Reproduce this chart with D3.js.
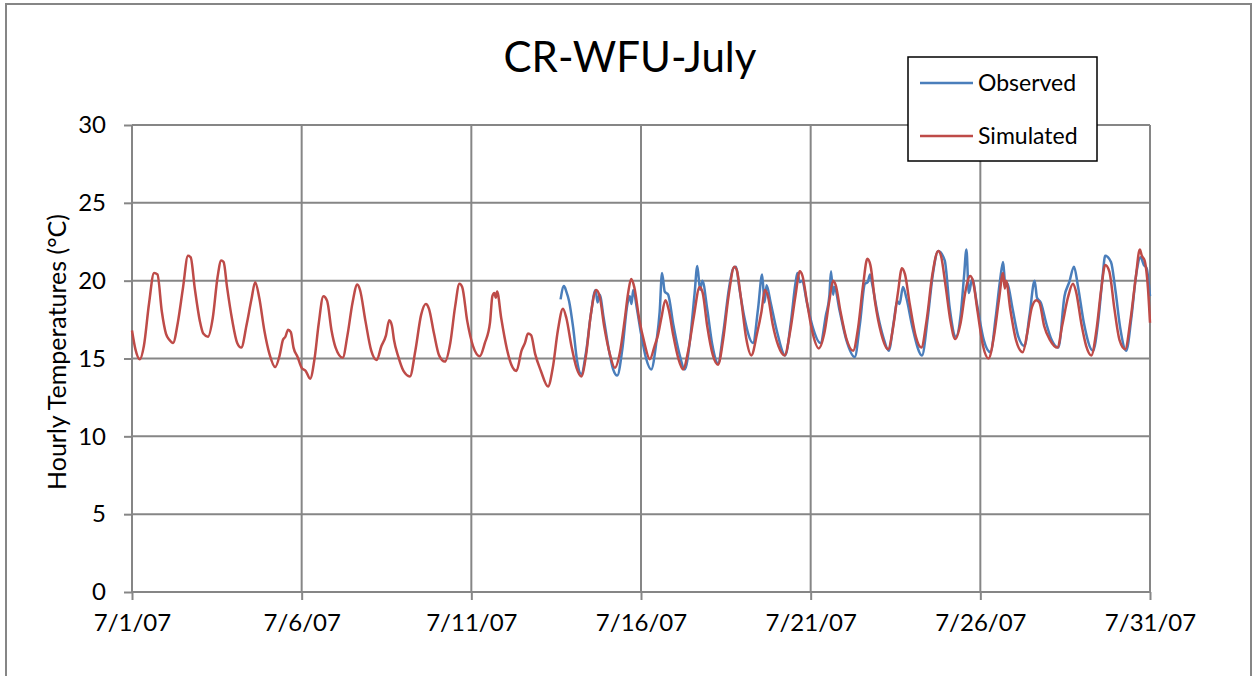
<!DOCTYPE html>
<html>
<head>
<meta charset="utf-8">
<script src="https://cdn.jsdelivr.net/npm/d3@7"></script>
<style>
  body { margin: 0; background: #fff; }
  svg text { font-family: Lato, "Open Sans", sans-serif; fill: #000; }
</style>
</head>
<body>
<div id="chart"></div>
<script>
// data: time in days since 7/1/07 00:00, temperature in deg C
const simDays = [0.00,0.10,0.23,0.35,0.50,0.65,0.75,0.88,1.00,1.10,1.21,1.35,1.50,1.65,1.73,1.85,2.00,2.10,2.24,2.38,2.52,2.63,2.70,2.80,2.95,3.10,3.22,3.38,3.52,3.63,3.75,3.90,4.05,4.22,4.35,4.45,4.52,4.60,4.68,4.76,4.88,5.00,5.12,5.25,5.38,5.50,5.64,5.75,5.88,6.00,6.21,6.35,6.50,6.64,6.72,6.88,7.05,7.21,7.35,7.48,7.58,7.66,7.72,7.85,8.00,8.19,8.35,8.52,8.66,8.75,8.90,9.05,9.22,9.38,9.52,9.65,9.73,9.88,10.05,10.25,10.40,10.55,10.62,10.68,10.72,10.76,10.88,11.05,11.18,11.33,11.48,11.58,11.67,11.76,11.88,12.05,12.26,12.40,12.55,12.70,12.80,12.95,13.10,13.24,13.38,13.52,13.68,13.78,13.92,14.08,14.23,14.38,14.52,14.62,14.71,14.80,14.95,15.10,15.26,15.40,15.50,15.60,15.72,15.82,15.95,16.10,16.24,16.40,16.55,16.73,16.82,16.95,17.12,17.27,17.42,17.58,17.75,17.82,17.95,18.10,18.25,18.42,18.55,18.65,18.74,18.88,19.05,19.23,19.40,19.55,19.68,19.76,19.90,20.05,20.24,20.40,20.55,20.66,20.74,20.88,21.05,21.25,21.40,21.55,21.67,21.76,21.90,22.08,22.28,22.43,22.57,22.69,22.78,22.92,23.10,23.26,23.42,23.58,23.76,23.84,23.98,24.12,24.26,24.42,24.56,24.70,24.78,24.92,25.08,25.24,25.40,25.55,25.67,25.72,25.76,25.88,26.05,26.25,26.38,26.52,26.65,26.74,26.88,27.05,27.27,27.42,27.58,27.73,27.82,27.98,28.12,28.27,28.42,28.56,28.68,28.80,28.95,29.10,29.27,29.42,29.58,29.70,29.76,29.84,29.94,30.00];
const simTemps = [16.8,15.6,14.95,15.8,18.5,20.5,20.4,18.0,16.6,16.2,16.0,17.3,19.5,21.6,21.5,19.5,17.4,16.6,16.4,17.6,20.2,21.3,21.2,19.6,17.5,16.0,15.7,17.2,18.8,19.9,18.9,16.8,15.3,14.45,15.2,16.2,16.4,16.85,16.7,15.7,15.1,14.4,14.2,13.7,15.0,17.2,19.0,18.7,16.8,15.7,15.05,16.5,18.6,19.75,19.4,17.4,15.5,14.9,15.8,16.45,17.45,17.1,16.2,15.1,14.2,13.85,15.5,17.8,18.5,18.2,16.6,15.2,14.8,16.0,18.3,19.8,19.6,17.4,15.8,15.15,16.0,17.3,19.0,19.2,18.9,19.3,17.6,15.6,14.6,14.2,15.5,16.0,16.6,16.5,15.3,14.2,13.2,14.4,16.8,18.2,17.6,15.8,14.4,13.85,15.2,17.8,19.4,19.0,17.0,15.3,14.4,15.4,17.5,19.2,20.1,19.6,17.5,16.0,14.95,15.8,16.5,17.6,18.75,18.1,16.5,15.0,14.3,15.6,17.6,19.6,19.2,17.1,15.2,14.6,16.2,19.0,20.9,20.7,18.8,16.3,15.2,16.6,18.0,19.4,19.0,17.2,15.8,15.2,16.8,19.0,20.6,20.3,18.5,16.7,15.65,16.6,18.7,20.0,19.7,18.0,16.3,15.5,17.0,19.8,21.4,21.0,18.6,16.6,15.6,17.0,19.2,20.8,20.4,18.5,16.4,15.7,17.5,20.3,21.9,21.6,19.6,17.4,16.25,17.3,19.3,20.3,20.0,18.0,15.8,15.0,16.4,18.8,20.5,19.5,20.0,18.2,16.2,15.4,16.6,18.3,18.75,18.6,17.1,16.2,15.7,17.2,18.9,19.8,19.3,17.2,15.8,15.2,16.8,19.4,21.0,20.6,18.2,16.2,15.6,17.4,20.2,22.0,21.6,21.3,19.5,17.3];

const obsDays = [12.63,12.73,12.80,12.88,13.00,13.12,13.24,13.38,13.52,13.66,13.72,13.78,13.90,14.05,14.18,14.30,14.45,14.60,14.67,14.72,14.77,14.88,15.00,15.15,15.30,15.45,15.55,15.62,15.70,15.80,15.95,16.12,16.29,16.45,16.58,16.66,16.74,16.81,16.95,17.10,17.27,17.42,17.60,17.72,17.80,17.90,18.05,18.30,18.45,18.57,18.64,18.70,18.82,19.00,19.25,19.42,19.55,19.61,19.68,19.75,19.88,20.05,20.29,20.45,20.55,20.60,20.66,20.70,20.85,21.05,21.30,21.45,21.60,21.68,21.75,21.82,21.98,22.15,22.30,22.45,22.55,22.62,22.72,22.82,23.00,23.28,23.45,23.60,23.76,23.95,24.10,24.28,24.42,24.52,24.59,24.66,24.76,24.90,25.10,25.30,25.45,25.58,25.67,25.73,25.80,25.95,26.12,26.30,26.45,26.60,26.67,26.78,26.95,27.10,27.30,27.48,27.62,27.76,27.88,28.05,28.32,28.48,28.60,28.68,28.85,28.98,29.12,29.30,29.45,29.60,29.72,29.82,29.90,30.00];
const obsTemps = [18.8,19.65,19.3,18.7,17.0,14.8,14.0,15.4,17.8,19.4,18.6,19.1,17.6,15.6,14.3,13.9,15.6,18.5,19.0,18.5,19.4,18.2,16.6,15.0,14.3,16.0,18.0,20.5,19.3,19.1,17.2,15.4,14.3,16.3,19.2,20.95,19.4,20.0,18.2,15.9,14.7,16.6,19.6,20.8,20.9,19.5,17.6,16.0,18.2,20.4,18.6,19.7,18.6,16.8,15.2,17.4,19.8,20.5,19.9,20.0,18.7,17.1,16.0,17.8,19.0,20.6,19.1,19.6,18.1,16.2,15.1,17.2,19.8,19.9,20.4,19.7,17.8,16.3,15.5,17.4,18.7,18.5,19.6,18.9,17.0,15.2,17.6,20.4,21.9,21.3,18.2,16.4,17.8,20.3,22.0,19.2,20.1,18.5,16.2,15.4,17.6,20.0,21.2,19.9,19.8,18.2,16.4,15.8,17.8,20.0,18.9,18.6,17.2,16.2,15.7,19.0,19.9,20.9,19.6,17.3,15.5,17.5,20.2,21.6,21.2,19.4,17.0,15.5,17.6,20.5,21.5,21.0,20.8,19.0];

const yTicks = [0, 5, 10, 15, 20, 25, 30];
const xTickDays = [0, 5, 10, 15, 20, 25, 30];
const seriesNames = ["Observed", "Simulated"];
const seriesColors = ["#4a7ebb", "#be4b48"];
const chartTitle = "CR-WFU-July";
const yTitle = "Hourly Temperatures (°C)";

const W = 1253, H = 676;
const margin = {left: 132, right: 103, top: 125, bottom: 84};

const startDate = new Date(2007, 6, 1);
const toDate = (d) => new Date(startDate.getTime() + d * 864e5);

const svg = d3.select("#chart").append("svg")
    .attr("width", W).attr("height", H);

// outer chart frame
svg.append("rect")
    .attr("x", 6).attr("y", 4)
    .attr("width", W - 8).attr("height", H + 10)
    .attr("fill", "#fff").attr("stroke", "#868686").attr("stroke-width", 2);

const x = d3.scaleTime().domain([startDate, toDate(30)]).range([margin.left, W - margin.right]);
const y = d3.scaleLinear().domain([0, 30]).range([H - margin.bottom, margin.top]);

// horizontal grid + y axis
const yAxis = svg.append("g")
    .attr("transform", "translate(" + margin.left + ",0)")
    .call(d3.axisLeft(y).tickValues(yTicks).tickSize(8).tickPadding(18));
yAxis.select(".domain").remove();
yAxis.selectAll("line").attr("stroke", "#868686").attr("stroke-width", 2);
yAxis.selectAll("text").style("font-size", "24px");
svg.append("g").selectAll("line").data(yTicks).join("line")
    .attr("x1", margin.left).attr("x2", W - margin.right)
    .attr("y1", (d) => y(d)).attr("y2", (d) => y(d))
    .attr("stroke", "#868686").attr("stroke-width", 2);

// vertical grid + x axis
const xAxis = svg.append("g")
    .attr("transform", "translate(0," + (H - margin.bottom) + ")")
    .call(d3.axisBottom(x).tickValues(xTickDays.map(toDate))
      .tickFormat(d3.timeFormat("%-m/%-d/%y")).tickSize(8).tickPadding(14));
xAxis.select(".domain").remove();
xAxis.selectAll("line").attr("stroke", "#868686").attr("stroke-width", 2);
xAxis.selectAll("text").style("font-size", "24px");
svg.append("g").selectAll("line").data(xTickDays).join("line")
    .attr("x1", (d) => x(toDate(d))).attr("x2", (d) => x(toDate(d)))
    .attr("y1", margin.top).attr("y2", H - margin.bottom)
    .attr("stroke", "#868686").attr("stroke-width", 2);

// series (simulated drawn last so it sits on top)
const line = d3.line()
    .x((d) => x(toDate(d[0])))
    .y((d) => y(d[1]))
    .curve(d3.curveMonotoneX);
const series = [
  d3.zip(obsDays, obsTemps),
  d3.zip(simDays, simTemps)
];
series.forEach((s, i) => {
  svg.append("path").datum(s)
    .attr("fill", "none")
    .attr("stroke", seriesColors[i])
    .attr("stroke-width", 2.5)
    .attr("stroke-linejoin", "round")
    .attr("d", line);
});

// title
svg.append("text")
    .attr("x", 630).attr("y", 72)
    .attr("text-anchor", "middle")
    .style("font-size", "42px")
    .text(chartTitle);

// y axis title
svg.append("text")
    .attr("transform", "translate(66,352) rotate(-90)")
    .attr("text-anchor", "middle")
    .style("font-size", "25px")
    .text(yTitle);

// legend
const legend = svg.append("g");
legend.append("rect")
    .attr("x", 908).attr("y", 57).attr("width", 189).attr("height", 104)
    .attr("fill", "#fff").attr("stroke", "#000").attr("stroke-width", 1.5);
seriesNames.forEach((name, i) => {
  const ly = 83 + i * 53;
  legend.append("line")
    .attr("x1", 920).attr("x2", 973).attr("y1", ly).attr("y2", ly)
    .attr("stroke", seriesColors[i]).attr("stroke-width", 2.5);
  legend.append("text")
    .attr("x", 978).attr("y", ly).attr("dy", "0.35em")
    .style("font-size", "23px")
    .text(name);
});
</script>
</body>
</html>
